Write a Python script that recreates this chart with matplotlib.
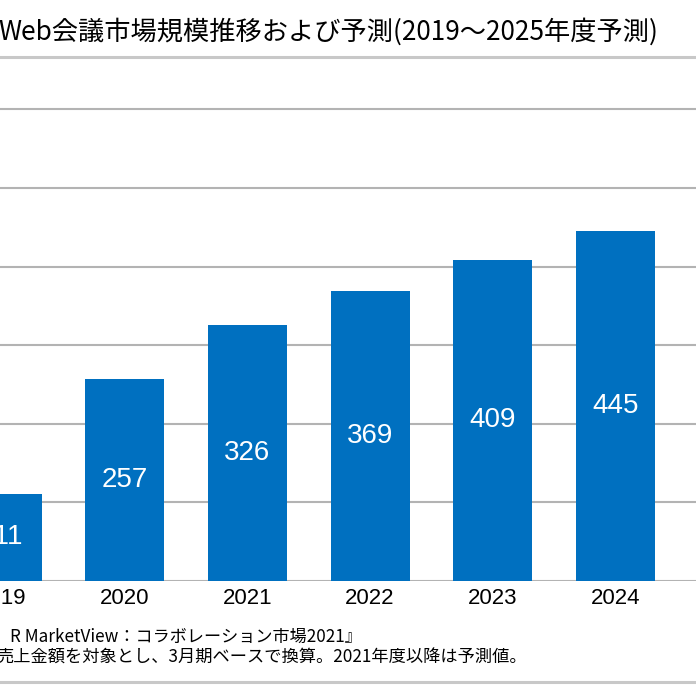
import matplotlib
matplotlib.use("Agg")
import matplotlib.pyplot as plt
from matplotlib.lines import Line2D

years = ["2019", "2020", "2021", "2022", "2023", "2024", "2025"]
values = [111, 257, 326, 369, 409, 445, 481]
title = "Web会議市場規模推移および予測(2019～2025年度予測)"
note1 = "R MarketView：コラボレーション市場2021』"
note2 = "売上金額を対象とし、3月期ベースで換算。2021年度以降は予測値。"

W = H = 696
fig = plt.figure(figsize=(6.96, 6.96), dpi=100)
fig.patch.set_facecolor("white")

def fx(px):
    return px / W

def fy(py):
    return 1 - py / H

ax_top, ax_bot = 57, 581
ax = fig.add_axes([0, fy(ax_bot), 1, (ax_bot - ax_top) / H])
spacing = 122.7
c0 = 2
ax.set_xlim(-c0 / spacing, (W - c0) / spacing)
ymax = (ax_bot - ax_top) / 0.786
ax.set_ylim(0, ymax)

xs = list(range(len(years)))
bars = ax.bar(xs, values, width=0.644, color="#0070C0", zorder=3)
for x, v in zip(xs, values):
    ax.text(x, v / 2, str(v), ha="center", va="center", color="white",
            fontsize=20, family=["Liberation Sans", "DejaVu Sans"], zorder=4)

for g in range(0, 700, 100):
    ax.axhline(g, color="#b3b3b3", lw=1.5, zorder=1)

for s in ax.spines.values():
    s.set_visible(False)
ax.set_xticks([])
ax.set_yticks([])
ax.patch.set_alpha(0)

for x, yr in zip(xs, years):
    ax.text(x, -17 / 0.786, yr, ha="center", va="center", fontsize=16,
            family=["Liberation Sans", "DejaVu Sans"], clip_on=False)

cjk = ["Noto Sans CJK JP", "DejaVu Sans"]
fig.text(fx(-2), fy(32), title, ha="left", va="center", fontsize=18.9, family=cjk)
fig.text(fx(10), fy(637), note1, ha="left", va="center", fontsize=12.3, family=cjk)
fig.text(fx(-4), fy(658), note2, ha="left", va="center", fontsize=12.4, family=cjk)

for py in (57, 682):
    fig.add_artist(Line2D([0, 1], [fy(py), fy(py)], color="#c8c8c8", lw=2.2,
                          transform=fig.transFigure))

fig.savefig("out.png", dpi=100, facecolor="white")
